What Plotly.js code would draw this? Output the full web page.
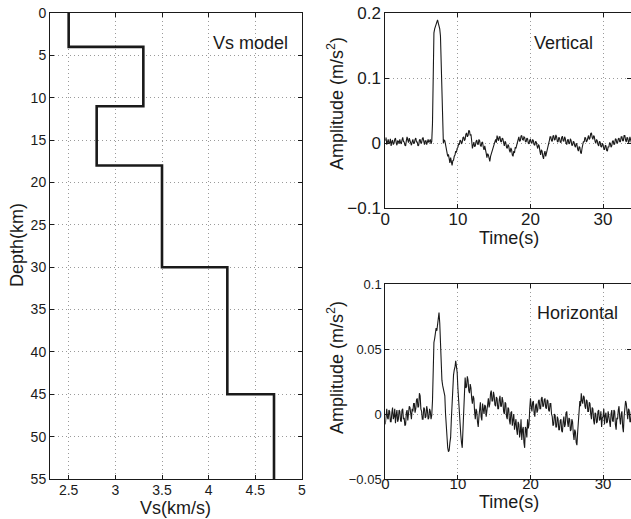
<!DOCTYPE html>
<html>
<head>
<meta charset="utf-8">
<script src="https://cdn.plot.ly/plotly-3.0.1.min.js"></script>
<style>html,body{margin:0;padding:0;background:#fff;}#chart{width:631px;height:519px;}</style>
</head>
<body>
<div id="chart"></div>
<script>
// ---- Vs model (layer boundaries, km; shear velocity, km/s) ----
const layerDepth = [0, 4, 11, 18, 30, 45, 55];
const layerVs    = [2.5, 3.3, 2.8, 3.5, 4.2, 4.7, 4.7];

// ---- Seismograms: sampling start and interval (s) ----
const t0 = 0;
const dt = 0.1;

// Vertical acceleration (m/s^2)
const vertical = [
  0.004,0.009,-0.002,0.003,0.006,-0.001,0.001,0.007,-0.004,0.002,0.005,-0.002,0.000,0.006,0.008,0.001,-0.003,0.004,0.003,-0.001,
  0.006,0.001,-0.001,0.005,0.009,0.003,0.002,-0.003,-0.004,0.004,0.010,0.005,0.001,0.008,0.004,-0.002,-0.003,0.002,0.006,0.000,
  0.000,0.006,0.008,0.002,0.002,-0.004,-0.003,0.005,0.006,0.000,0.001,0.007,0.009,0.003,-0.002,0.004,0.004,-0.002,0.002,0.006,
  0.001,0.005,0.006,-0.001,0.003,0.030,0.120,0.170,0.176,0.180,0.183,0.188,0.190,0.185,0.180,0.176,0.165,0.120,0.050,0.010,
  0.000,0.005,0.004,-0.002,-0.008,-0.014,-0.020,-0.017,-0.026,-0.030,-0.022,-0.028,-0.034,-0.027,-0.026,-0.020,-0.018,-0.012,-0.014,-0.008,
  -0.006,-0.001,-0.002,0.005,0.004,-0.001,0.002,0.009,0.010,0.004,0.006,0.014,0.016,0.010,0.012,0.020,0.019,0.012,0.014,0.004,
  -0.008,-0.003,0.002,-0.005,-0.004,0.003,0.005,-0.001,-0.002,0.006,0.004,-0.003,-0.005,0.001,0.002,-0.006,-0.010,-0.004,-0.008,-0.015,
  -0.022,-0.016,-0.018,-0.026,-0.028,-0.020,-0.016,-0.010,-0.008,-0.002,0.002,0.006,0.006,0.001,0.012,0.007,0.004,0.010,0.010,0.003,
  0.002,0.008,0.007,0.001,-0.004,0.003,0.001,-0.006,-0.008,-0.002,-0.004,-0.011,-0.014,-0.007,-0.010,-0.018,-0.020,-0.012,-0.015,-0.006,
  -0.008,-0.003,0.002,0.008,0.010,0.003,0.004,0.011,0.012,0.006,0.005,0.010,0.009,0.003,0.002,0.008,0.007,0.000,-0.001,0.005,
  0.006,0.001,0.000,0.006,0.004,-0.002,-0.003,0.003,0.002,-0.004,-0.008,-0.002,-0.004,-0.012,-0.018,-0.010,-0.012,-0.020,-0.024,-0.016,
  -0.012,-0.020,-0.016,-0.008,-0.006,0.000,0.004,0.010,0.010,0.004,0.003,0.011,0.012,0.005,0.006,0.013,0.010,0.003,0.002,0.009,
  0.008,0.002,0.001,0.009,0.011,0.004,0.003,0.010,0.007,0.000,-0.002,0.005,0.006,-0.001,0.000,0.007,0.004,-0.003,-0.003,0.003,
  0.002,-0.004,-0.006,0.000,-0.002,-0.009,-0.012,-0.005,-0.006,-0.014,-0.016,-0.008,-0.004,0.003,0.002,0.009,0.008,0.002,0.004,0.011,
  0.012,0.006,0.008,0.015,0.016,0.009,0.006,0.012,0.010,0.003,0.000,0.006,0.004,-0.002,-0.004,0.003,0.002,-0.005,-0.006,0.000,
  -0.002,-0.008,-0.010,-0.003,-0.004,-0.011,-0.012,-0.005,-0.006,0.001,0.000,-0.006,-0.004,0.003,0.004,-0.002,-0.001,0.007,0.006,0.000,
  0.001,0.007,0.008,0.002,0.003,0.010,0.010,0.004,0.004,0.012,0.012,0.005,0.002,0.009,0.008,0.001,0.003,0.010,0.006,0.001
];

// Horizontal acceleration (m/s^2)
const horizontal = [
  -0.008,0.002,0.004,-0.003,-0.004,0.003,0.002,-0.006,-0.006,0.001,0.005,-0.004,-0.002,0.004,-0.007,-0.001,0.003,-0.006,-0.004,0.003,
  0.002,-0.005,-0.006,0.003,0.004,-0.004,-0.003,-0.009,-0.008,0.001,0.003,-0.005,-0.001,0.006,0.005,-0.003,-0.004,0.004,0.002,0.008,
  0.008,0.001,0.004,0.011,0.012,0.005,0.006,0.016,0.014,0.004,0.002,-0.004,-0.004,0.005,0.004,-0.003,-0.002,0.006,0.003,-0.004,
  -0.003,0.004,0.002,-0.004,-0.001,0.010,0.045,0.055,0.058,0.062,0.066,0.064,0.068,0.072,0.078,0.070,0.055,0.030,0.026,0.022,
  0.020,0.018,0.014,0.000,-0.012,-0.022,-0.026,-0.029,-0.028,-0.022,-0.018,-0.004,0.012,0.024,0.030,0.034,0.036,0.041,0.038,0.032,
  0.020,0.008,-0.004,-0.012,-0.016,-0.022,-0.026,-0.012,0.004,0.022,0.028,0.020,0.021,0.029,0.026,0.018,0.016,0.023,0.020,0.012,
  0.008,0.014,0.012,0.002,-0.004,0.004,0.002,-0.006,-0.010,-0.002,0.004,0.009,-0.002,-0.005,0.008,0.003,0.000,0.007,0.006,-0.002,
  0.002,0.008,0.012,0.005,0.008,0.016,0.018,0.010,0.010,0.017,0.014,0.007,0.006,0.013,0.012,0.004,0.004,0.011,0.014,0.006,
  0.006,0.013,0.010,0.002,0.000,0.009,0.008,-0.002,-0.004,0.005,0.004,-0.005,-0.008,0.001,0.002,-0.009,-0.006,0.000,-0.012,-0.004,
  -0.004,-0.012,-0.016,-0.006,-0.008,-0.018,-0.014,-0.004,-0.020,-0.012,-0.010,-0.022,-0.026,-0.010,-0.012,-0.018,-0.004,-0.011,-0.008,0.004,
  0.012,0.006,0.002,0.009,0.010,0.001,-0.002,0.006,0.008,0.001,0.003,0.010,0.011,0.004,0.004,0.012,0.013,0.006,0.006,0.011,
  0.012,0.005,0.004,0.011,0.010,0.003,0.002,0.008,0.008,0.000,-0.002,-0.009,-0.008,0.000,-0.001,-0.010,-0.010,-0.002,-0.004,-0.012,
  -0.012,-0.005,-0.004,-0.013,-0.014,-0.006,-0.002,-0.010,-0.008,0.001,0.002,-0.006,-0.010,-0.003,-0.004,-0.013,-0.012,-0.004,-0.006,-0.015,
  -0.020,-0.012,-0.014,-0.022,-0.024,-0.014,-0.006,0.004,0.010,0.006,0.016,0.010,0.008,0.014,0.013,0.006,0.004,0.011,0.010,0.002,
  0.002,0.009,0.008,0.000,-0.004,0.005,0.004,-0.005,-0.008,0.001,0.000,-0.007,-0.006,0.002,0.003,-0.005,-0.004,0.002,-0.010,-0.003,
  -0.002,0.004,-0.008,-0.001,0.001,-0.007,-0.006,0.002,-0.002,-0.009,-0.010,0.000,0.003,-0.005,-0.006,0.003,0.002,-0.008,-0.012,-0.003,
  -0.004,0.003,0.006,-0.003,-0.008,0.000,0.002,-0.010,-0.014,-0.002,0.004,0.010,0.008,-0.001,-0.004,0.004,0.003,-0.006,-0.006,0.002
];

// ---- Tick values / labels ----
const vsTicks = [2.5, 3, 3.5, 4, 4.5, 5];
const vsTickText = ['2.5', '3', '3.5', '4', '4.5', '5'];
const depthTicks = [0,5,10,15,20,25,30,35,40,45,50,55];
const timeTicks = [0, 10, 20, 30];
const timeTickText = ['0', '10', '20', '30'];
const vertTicks = [-0.1, 0, 0.1, 0.2];
const vertTickText = ['\u22120.1', '0', '0.1', '0.2'];
const horTicks = [-0.05, 0, 0.05, 0.1];
const horTickText = ['\u22120.05', '0', '0.05', '0.1'];

// ---- Layout helpers ----
const W = 631, H = 519;
const fx = x => x / W;
const fy = y => 1 - y / H;
const FONT = 'Liberation Sans, Arial, Helvetica, sans-serif';
const INK = '#1a1a1a';

const time = vertical.map((_, i) => +(t0 + i * dt).toFixed(2));

const traces = [
  {x: layerVs, y: layerDepth, xaxis: 'x', yaxis: 'y', mode: 'lines',
   line: {color: INK, width: 2.6, shape: 'vh'}, hoverinfo: 'skip'},
  {x: time, y: vertical, xaxis: 'x2', yaxis: 'y2', mode: 'lines',
   line: {color: INK, width: 1.1}, hoverinfo: 'skip'},
  {x: time, y: horizontal, xaxis: 'x3', yaxis: 'y3', mode: 'lines',
   line: {color: INK, width: 1.1}, hoverinfo: 'skip'}
];

function ax(extra) {
  return Object.assign({
    showline: true, linecolor: INK, linewidth: 1, mirror: 'ticks',
    ticks: 'inside', ticklen: 4, tickcolor: INK,
    showgrid: true, gridcolor: '#9a9a9a', griddash: '1px,3px', gridwidth: 1,
    zeroline: false, tickmode: 'array', fixedrange: true,
    tickfont: {family: FONT, size: 14, color: INK}
  }, extra);
}

const layout = {
  width: W, height: H,
  margin: {l: 0, r: 0, t: 0, b: 0},
  paper_bgcolor: '#fff', plot_bgcolor: '#fff',
  showlegend: false,
  font: {family: FONT, color: INK},
  xaxis: ax({domain: [fx(50), fx(302)], range: [2.3, 5], anchor: 'y',
    tickvals: vsTicks, ticktext: vsTickText, ticklabelstandoff: -2}),
  yaxis: ax({domain: [fy(479), fy(13)], range: [55, 0], anchor: 'x',
    tickvals: depthTicks, ticktext: depthTicks.map(String), ticklabelstandoff: 0}),
  xaxis2: ax({domain: [fx(385.3), 1], range: [0, 33.85], anchor: 'y2',
    tickvals: timeTicks, ticktext: timeTickText,
    tickfont: {family: FONT, size: 17, color: INK}, ticklabelstandoff: -5}),
  yaxis2: ax({domain: [fy(208.3), fy(13.3)], range: [-0.1, 0.2], anchor: 'x2',
    tickvals: vertTicks, ticktext: vertTickText,
    tickfont: {family: FONT, size: 17, color: INK}, ticklabelstandoff: 0}),
  xaxis3: ax({domain: [fx(385.3), 1], range: [0, 33.85], anchor: 'y3',
    tickvals: timeTicks, ticktext: timeTickText,
    tickfont: {family: FONT, size: 15, color: INK}, ticklabelstandoff: -9}),
  yaxis3: ax({domain: [fy(479), fy(284)], range: [-0.05, 0.1], anchor: 'x3',
    tickvals: horTicks, ticktext: horTickText,
    tickfont: {family: FONT, size: 13, color: INK}, ticklabelstandoff: 0}),
  annotations: [
    {text: 'Vs model', x: fx(250), y: fy(43)},
    {text: 'Vertical', x: fx(563), y: fy(43)},
    {text: 'Horizontal', x: fx(577), y: fy(313)},
    {text: 'Vs(km/s)', x: fx(175), y: fy(508)},
    {text: 'Depth(km)', x: fx(17), y: fy(245), textangle: -90},
    {text: 'Time(s)', x: fx(509), y: fy(238)},
    {text: 'Time(s)', x: fx(509), y: fy(502)},
    {text: 'Amplitude (m/s<sup>2</sup>)', x: fx(335), y: fy(104), textangle: -90},
    {text: 'Amplitude (m/s<sup>2</sup>)', x: fx(335), y: fy(368), textangle: -90}
  ].map(a => Object.assign({xref: 'paper', yref: 'paper', showarrow: false,
    xanchor: 'center', yanchor: 'middle',
    font: {family: FONT, size: 18, color: INK}}, a))
};

Plotly.newPlot('chart', traces, layout, {staticPlot: true, displayModeBar: false});
</script>
</body>
</html>
